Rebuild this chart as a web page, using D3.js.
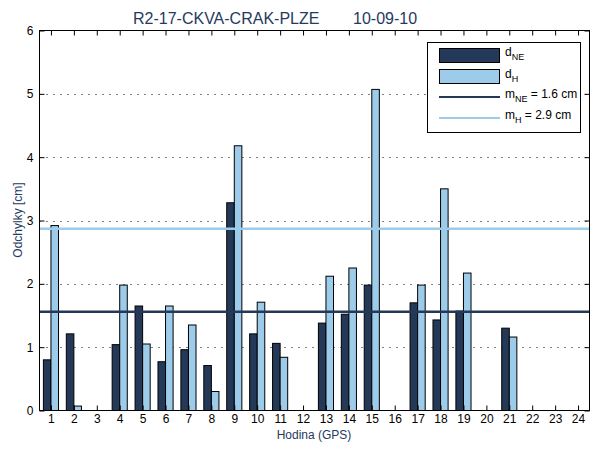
<!DOCTYPE html>
<html>
<head>
<meta charset="utf-8">
<script src="https://cdn.jsdelivr.net/npm/d3@7"></script>
<style>
  body { margin: 0; background: #fff; }
  svg { font-family: "Liberation Sans", Arial, sans-serif; }
</style>
</head>
<body>
<svg id="chart" width="600" height="450"></svg>
<script>
// hours (GPS) and deviations in cm
var hours = d3.range(1, 25);
var dNE = [0.80, 1.21, null, 1.04, 1.65, 0.77, 0.96, 0.71, 3.28, 1.21, 1.06, null,
           1.38, 1.52, 1.98, null, 1.70, 1.43, 1.57, null, 1.30, null, null, null];
var dH = [2.92, 0.07, null, 1.98, 1.05, 1.65, 1.35, 0.30, 4.18, 1.71, 0.84, null,
          2.12, 2.25, 5.07, null, 1.98, 3.50, 2.17, null, 1.16, null, null, null];
var mNE = 1.56, mH = 2.87;
var yTicks = [0, 1, 2, 3, 4, 5, 6];
var legendLabels = [["d", "NE", ""], ["d", "H", ""], ["m", "NE", " = 1.6 cm"], ["m", "H", "  = 2.9 cm"]];

var darkCol = "#243858", lightCol = "#9dcbea", textCol = "#253a5e";

var svg = d3.select("#chart");
var pLeft = 39.5, pRight = 589.5, pTop = 30.5, pBottom = 410.5;

var x = d3.scaleLinear().domain([0.5, 24.5]).range([pLeft, pRight]);
var y = d3.scaleLinear().domain([0, 6]).range([pBottom, pTop]);
var bw = 0.33; // bar width in hour units

// dotted grid (snapped to pixels so the dots stay black)
svg.append("g").selectAll("line").data([1, 2, 3, 4, 5]).enter().append("line")
  .attr("x1", pLeft).attr("x2", pRight)
  .attr("y1", function (d) { return Math.round(y(d)) + 0.5; })
  .attr("y2", function (d) { return Math.round(y(d)) + 0.5; })
  .attr("stroke", "#000").attr("stroke-width", 1).attr("stroke-dasharray", "1,6");

// bars
var g = svg.append("g");
g.selectAll(".ne").data(hours.filter(function (h, i) { return dNE[i] != null; })).enter().append("rect")
  .attr("x", function (h) { return x(h - bw); })
  .attr("width", x(bw) - x(0))
  .attr("y", function (h) { return y(dNE[h - 1]); })
  .attr("height", function (h) { return pBottom - y(dNE[h - 1]); })
  .attr("fill", darkCol).attr("stroke", "#000").attr("stroke-width", 1);
g.selectAll(".h").data(hours.filter(function (h, i) { return dH[i] != null; })).enter().append("rect")
  .attr("x", function (h) { return x(h); })
  .attr("width", x(bw) - x(0))
  .attr("y", function (h) { return y(dH[h - 1]); })
  .attr("height", function (h) { return pBottom - y(dH[h - 1]); })
  .attr("fill", lightCol).attr("stroke", "#000").attr("stroke-width", 1);

// mean lines
svg.append("line").attr("x1", pLeft).attr("x2", pRight).attr("y1", y(mNE)).attr("y2", y(mNE))
  .attr("stroke", darkCol).attr("stroke-width", 2.5);
svg.append("line").attr("x1", pLeft).attr("x2", pRight).attr("y1", y(mH)).attr("y2", y(mH))
  .attr("stroke", lightCol).attr("stroke-width", 2.5);

// axes box
svg.append("rect").attr("x", pLeft).attr("y", pTop).attr("width", pRight - pLeft).attr("height", pBottom - pTop)
  .attr("fill", "none").attr("stroke", "#000").attr("stroke-width", 1);

var axB = svg.append("g").attr("transform", "translate(0," + pBottom + ")")
  .call(d3.axisBottom(x).tickValues(hours).tickSizeInner(-5).tickSizeOuter(0).tickPadding(4));
var axT = svg.append("g").attr("transform", "translate(0," + pTop + ")")
  .call(d3.axisTop(x).tickValues(hours).tickSizeInner(-5).tickSizeOuter(0).tickFormat(""));
var axL = svg.append("g").attr("transform", "translate(" + pLeft + ",0)")
  .call(d3.axisLeft(y).tickValues(yTicks).tickFormat(d3.format("d"))
    .tickSizeInner(-5).tickSizeOuter(0).tickPadding(6));
var axR = svg.append("g").attr("transform", "translate(" + pRight + ",0)")
  .call(d3.axisRight(y).tickValues(yTicks).tickSizeInner(-5).tickSizeOuter(0).tickFormat(""));
[axB, axT, axL, axR].forEach(function (a) {
  a.select(".domain").remove();
  a.selectAll("text").attr("fill", "#000").style("font-size", "12px")
    .style("font-family", "'Liberation Sans', Arial, sans-serif");
});

// title and labels
svg.append("text").attr("x", 133).attr("y", 24).attr("fill", textCol)
  .style("font-size", "16px").text("R2-17-CKVA-CRAK-PLZE");
svg.append("text").attr("x", 353).attr("y", 24).attr("fill", textCol)
  .style("font-size", "16px").text("10-09-10");
svg.append("text").attr("x", 314).attr("y", 439).attr("text-anchor", "middle").attr("fill", textCol)
  .style("font-size", "12px").text("Hodina (GPS)");
svg.append("text").attr("transform", "translate(22,220) rotate(-90)").attr("text-anchor", "middle")
  .attr("fill", textCol).style("font-size", "12px").text("Odchylky [cm]");

// legend
var lg = svg.append("g");
lg.append("rect").attr("x", 427.5).attr("y", 42.5).attr("width", 153).attr("height", 90)
  .attr("fill", "#fff").attr("stroke", "#000");
var rowY = [55, 77, 97, 118];
lg.append("rect").attr("x", 439.5).attr("y", 48.5).attr("width", 60).attr("height", 14)
  .attr("fill", darkCol).attr("stroke", "#000");
lg.append("rect").attr("x", 439.5).attr("y", 69.5).attr("width", 60).attr("height", 14)
  .attr("fill", lightCol).attr("stroke", "#000");
lg.append("line").attr("x1", 439).attr("x2", 500).attr("y1", rowY[2]).attr("y2", rowY[2])
  .attr("stroke", darkCol).attr("stroke-width", 2);
lg.append("line").attr("x1", 439).attr("x2", 500).attr("y1", rowY[3]).attr("y2", rowY[3])
  .attr("stroke", lightCol).attr("stroke-width", 2);
legendLabels.forEach(function (l, i) {
  var t = lg.append("text").attr("x", 505).attr("y", rowY[i] + 1).style("font-size", "12px").attr("fill", "#000");
  t.append("tspan").text(l[0]);
  t.append("tspan").attr("dy", 4).style("font-size", "9px").text(l[1]);
  if (l[2]) t.append("tspan").attr("dy", -4).text(l[2]);
});
</script>
</body>
</html>
